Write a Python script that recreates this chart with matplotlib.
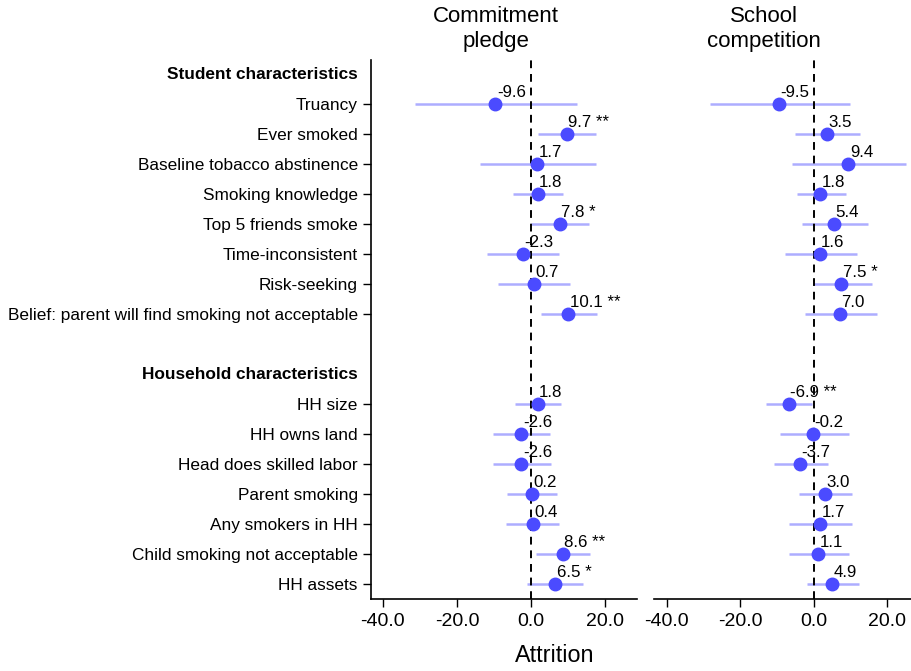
import numpy as np
import matplotlib
matplotlib.use("Agg")
import matplotlib.pyplot as plt

plt.rcParams['font.family'] = ['Liberation Sans', 'DejaVu Sans']

student_vars = ["Truancy", "Ever smoked", "Baseline tobacco abstinence",
                "Smoking knowledge", "Top 5 friends smoke", "Time-inconsistent",
                "Risk-seeking", "Belief: parent will find smoking not acceptable"]
household_vars = ["HH size", "HH owns land", "Head does skilled labor",
                  "Parent smoking", "Any smokers in HH",
                  "Child smoking not acceptable", "HH assets"]

# commitment pledge
pledge_est = [-9.6, 9.7, 1.7, 1.8, 7.8, -2.3, 0.7, 10.1,
              1.8, -2.6, -2.6, 0.2, 0.4, 8.6, 6.5]
pledge_lo = [-31.4, 2.0, -13.8, -5.0, 0.0, -11.9, -8.8, 2.6,
             -4.3, -10.2, -10.2, -6.6, -6.8, 1.4, -1.0]
pledge_hi = [12.3, 17.5, 17.5, 8.7, 15.7, 7.6, 10.5, 17.7,
             8.1, 5.1, 5.3, 7.1, 7.6, 15.9, 14.0]
pledge_sig = ["", "**", "", "", "*", "", "", "**",
              "", "", "", "", "", "**", "*"]

# school competition
comp_est = [-9.5, 3.5, 9.4, 1.8, 5.4, 1.6, 7.5, 7.0,
            -6.9, -0.2, -3.7, 3.0, 1.7, 1.1, 4.9]
comp_lo = [-28.3, -5.1, -5.9, -4.5, -3.2, -7.9, -0.2, -2.4,
           -13.1, -9.3, -10.8, -4.0, -6.7, -6.7, -1.8]
comp_hi = [9.8, 12.5, 25.2, 8.7, 14.6, 11.6, 15.7, 17.1,
           -0.4, 9.5, 3.9, 10.5, 10.5, 9.5, 12.2]
comp_sig = ["", "", "", "", "", "", "*", "",
            "**", "", "", "", "", "", ""]

xticks = [-40, -20, 0, 20]

# row positions: header rows 0 and 10, blank row 9
rows = list(range(1, 1 + len(student_vars))) + \
    list(range(11, 11 + len(household_vars)))
labels = student_vars + household_vars

pt_col = '#4b4bff'
ci_col = '#adadff'

fig = plt.figure(figsize=(9.12, 6.71), dpi=100)
ax1 = fig.add_axes([371/912, 1 - 599/671, 266/912, 539/671])
ax2 = fig.add_axes([654/912, 1 - 599/671, 258/912, 539/671])


def draw(ax, est, lo, hi, sig, xlim):
    ax.hlines(rows, lo, hi, color=ci_col, lw=1.8, zorder=1)
    ax.axvline(0, color='black', ls=(0, (4, 3)), lw=1.4, zorder=2)
    ax.plot(est, rows, 'o', color=pt_col, ms=9, zorder=3)
    for e, r, s in zip(est, rows, sig):
        txt = '%.1f' % e + (' ' + s if s else '')
        ax.annotate(txt, (e, r), xytext=(1, 3), textcoords='offset points',
                    ha='left', va='bottom', fontsize=12.2, zorder=4)
    ax.set_xlim(*xlim)
    ax.set_ylim(17.5, -0.47)
    ax.set_xticks(xticks)
    ax.set_xticklabels(['%.1f' % t for t in xticks], fontsize=14)
    ax.tick_params(axis='x', length=6, width=1, pad=4)
    ax.spines['top'].set_visible(False)
    ax.spines['right'].set_visible(False)
    ax.spines['bottom'].set_linewidth(1.2)


draw(ax1, pledge_est, pledge_lo, pledge_hi, pledge_sig, (-43.2, 28.6))
draw(ax2, comp_est, comp_lo, comp_hi, comp_sig, (-43.5, 26.7))

ax1.set_yticks(rows)
ax1.set_yticklabels(labels, fontsize=12.4)
ax1.tick_params(axis='y', length=6, width=1, pad=3.5)
ax1.spines['left'].set_linewidth(1.2)
for r, h in [(0, "Student characteristics"), (10, "Household characteristics")]:
    ax1.annotate(h, (0, r), xycoords=('axes fraction', 'data'),
                 xytext=(-9.5, 0), textcoords='offset points',
                 ha='right', va='center', fontsize=12.4, fontweight='bold')

ax2.set_yticks([])
ax2.spines['left'].set_visible(False)

fig.text(496/912, 1 - 17/671, "Commitment", ha='center', va='center', fontsize=16)
fig.text(496/912, 1 - 41/671, "pledge", ha='center', va='center', fontsize=16)
fig.text(764/912, 1 - 17/671, "School", ha='center', va='center', fontsize=16)
fig.text(764/912, 1 - 41/671, "competition", ha='center', va='center', fontsize=16)
fig.text(555/912, 1 - 655/671, "Attrition", ha='center', va='center', fontsize=16.8)

fig.savefig('out.png', dpi=100)
